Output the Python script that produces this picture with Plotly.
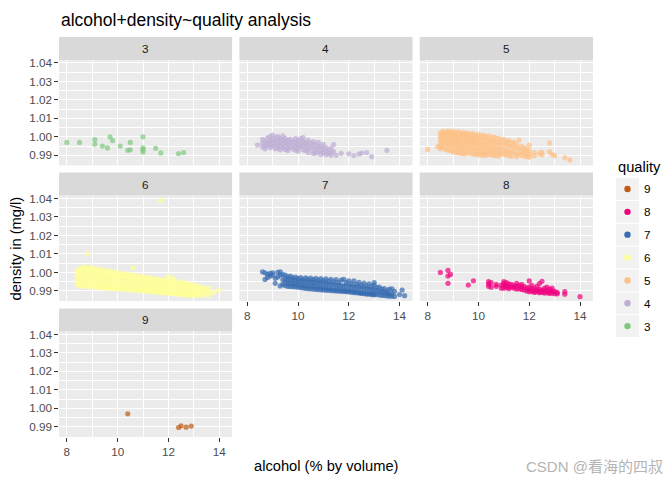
import plotly.graph_objects as go

# ---------------- data ----------------
qualities = ["3", "4", "5", "6", "7", "8", "9"]
palette = ["#7FC97F", "#BEAED4", "#FDC086", "#FFFF99", "#386CB0", "#F0027F", "#BF5B17"]

# rows: (alcohol, [densities observed at that alcohol])
q3_rows = [
    (8.0, [0.9970]), (8.5, [0.9970]), (9.1, [0.9985, 0.9960]), (9.4, [0.9950]),
    (9.6, [0.9940]), (9.7, [1.0000]), (9.8, [0.9980]), (10.1, [0.9950]),
    (10.4, [0.9927]), (10.5, [0.9970, 0.9930]), (11.0, [1.0000, 0.9940, 0.9930, 0.9918]),
    (11.5, [0.9938]), (11.7, [0.9913]), (12.4, [0.9910]), (12.6, [0.9915]),
]
q4_rows = [
    (8.4, [0.9956]), (8.6, [0.9987, 0.9965, 0.9945]), (8.7, [0.9975, 0.9950, 0.9935]),
    (8.8, [0.9995, 0.9970, 0.9955]), (8.9, [1.0002, 0.9980, 0.9960, 0.9942]),
    (9.0, [1.0010, 0.9985, 0.9968, 0.9950]), (9.1, [0.9995, 0.9975, 0.9955, 0.9935]),
    (9.2, [1.0003, 0.9982, 0.9962, 0.9940]), (9.3, [0.9990, 0.9970, 0.9948, 0.9930]),
    (9.4, [1.0005, 0.9985, 0.9965, 0.9942]), (9.5, [0.9992, 0.9972, 0.9952, 0.9932]),
    (9.6, [0.9980, 0.9960, 0.9938, 0.9926]), (9.7, [0.9988, 0.9968, 0.9945]),
    (9.8, [0.9975, 0.9955, 0.9935]), (9.9, [0.9992, 0.9970, 0.9950, 0.9928]),
    (10.0, [0.9980, 0.9960, 0.9940, 0.9922]), (10.1, [0.9990, 0.9965, 0.9945]),
    (10.2, [0.9996, 0.9975, 0.9952, 0.9930]), (10.3, [0.9970, 0.9948, 0.9925]),
    (10.4, [0.9982, 0.9958, 0.9935, 0.9915]), (10.5, [0.9965, 0.9942]),
    (10.6, [0.9975, 0.9950, 0.9925, 0.9910]), (10.7, [0.9960, 0.9935, 0.9912]),
    (10.8, [0.9970, 0.9945, 0.9920]), (10.9, [0.9950, 0.9928, 0.9905]),
    (11.0, [0.9960, 0.9935, 0.9915]), (11.1, [0.9942, 0.9920, 0.9903]),
    (11.2, [0.9930, 0.9910]), (11.3, [0.9938, 0.9915, 0.9900]), (11.4, [0.9958, 0.9920]),
    (11.5, [0.9900]), (11.7, [0.9911]), (12.0, [0.9908]), (12.2, [0.9899]),
    (12.4, [0.9907]), (12.5, [0.9912]), (12.7, [0.9915]), (12.9, [0.9893]), (13.5, [0.9927]),
]
q5_rows = [
    (8.0, [0.9932]), (8.4, [0.9947]),
    (8.5, [1.0022, 1.0005, 0.9990, 0.9970, 0.9950, 0.9935]),
    (8.6, [1.0030, 1.0018, 1.0002, 0.9984, 0.9962, 0.9942]),
    (8.7, [1.0026, 1.0012, 0.9995, 0.9978, 0.9958, 0.9932]),
    (8.8, [1.0033, 1.0020, 1.0005, 0.9988, 0.9968, 0.9948, 0.9928]),
    (8.9, [1.0024, 1.0010, 0.9992, 0.9975, 0.9955, 0.9925]),
    (9.0, [1.0031, 1.0016, 1.0000, 0.9983, 0.9965, 0.9945, 0.9920]),
    (9.1, [1.0022, 1.0008, 0.9990, 0.9972, 0.9952, 0.9930, 0.9915]),
    (9.2, [1.0029, 1.0012, 0.9995, 0.9978, 0.9960, 0.9940, 0.9914]),
    (9.3, [1.0018, 1.0006, 0.9988, 0.9968, 0.9948, 0.9926, 0.9911]),
    (9.4, [1.0025, 1.0009, 0.9991, 0.9973, 0.9953, 0.9932, 0.9909]),
    (9.5, [1.0016, 1.0004, 0.9985, 0.9965, 0.9944, 0.9920, 0.9908]),
    (9.6, [1.0020, 1.0001, 0.9982, 0.9962, 0.9940, 0.9916]),
    (9.7, [1.0012, 0.9998, 0.9978, 0.9958, 0.9936, 0.9910]),
    (9.8, [1.0017, 0.9996, 0.9975, 0.9955, 0.9932, 0.9907]),
    (9.9, [1.0008, 0.9993, 0.9972, 0.9950, 0.9928, 0.9905]),
    (10.0, [1.0014, 0.9990, 0.9968, 0.9946, 0.9924, 0.9903]),
    (10.1, [1.0004, 0.9988, 0.9965, 0.9942, 0.9920, 0.9902]),
    (10.2, [1.0010, 0.9986, 0.9962, 0.9938, 0.9916, 0.9901]),
    (10.3, [1.0000, 0.9983, 0.9958, 0.9935, 0.9912, 0.9900]),
    (10.4, [1.0006, 0.9980, 0.9955, 0.9930, 0.9908]),
    (10.5, [0.9995, 0.9976, 0.9950, 0.9926, 0.9903]),
    (10.6, [1.0000, 0.9972, 0.9946, 0.9922, 0.9900]),
    (10.7, [0.9990, 0.9968, 0.9942, 0.9918, 0.9898]),
    (10.8, [0.9993, 0.9965, 0.9938, 0.9914, 0.9897]),
    (10.9, [0.9982, 0.9962, 0.9935, 0.9910]),
    (11.0, [0.9987, 0.9958, 0.9930, 0.9906]),
    (11.1, [0.9975, 0.9955, 0.9926, 0.9902]),
    (11.2, [0.9980, 0.9950, 0.9922, 0.9898]),
    (11.3, [0.9966, 0.9946, 0.9918, 0.9895]),
    (11.4, [0.9972, 0.9942, 0.9914]),
    (11.5, [0.9958, 0.9938, 0.9910, 0.9893]),
    (11.6, [0.9983, 0.9935, 0.9908]),
    (11.7, [0.9948, 0.9925, 0.9900]),
    (11.8, [0.9942, 0.9920, 0.9896]),
    (11.9, [0.9932, 0.9912, 0.9893]),
    (12.0, [0.9955, 0.9925, 0.9905, 0.9890]),
    (12.2, [0.9915, 0.9898]), (12.4, [0.9910]), (12.5, [0.9918, 0.9902]),
    (12.8, [0.9967, 0.9920]), (12.9, [0.9905]), (13.0, [0.9898]),
    (13.4, [0.9888]), (13.6, [0.9875]),
]
q6_rows = [
    (8.4, [1.0012, 0.9995, 0.9975, 0.9955, 0.9935]),
    (8.5, [1.0018, 1.0000, 0.9982, 0.9962, 0.9942, 0.9928]),
    (8.6, [1.0025, 1.0008, 0.9988, 0.9968, 0.9948, 0.9927]),
    (8.7, [1.0030, 1.0012, 0.9992, 0.9972, 0.9950, 0.9926]),
    (8.8, [1.0101, 1.0022, 1.0010, 0.9990, 0.9970, 0.9948, 0.9925]),
    (8.9, [1.0026, 1.0006, 0.9986, 0.9965, 0.9944, 0.9924]),
    (9.0, [1.0018, 1.0004, 0.9984, 0.9962, 0.9940, 0.9923]),
    (9.1, [1.0022, 1.0001, 0.9980, 0.9958, 0.9937, 0.9921]),
    (9.2, [1.0012, 0.9999, 0.9978, 0.9956, 0.9935, 0.9920]),
    (9.3, [1.0017, 0.9996, 0.9975, 0.9953, 0.9932, 0.9918]),
    (9.4, [1.0008, 0.9994, 0.9972, 0.9950, 0.9930, 0.9917]),
    (9.5, [1.0012, 0.9991, 0.9969, 0.9947, 0.9927, 0.9916]),
    (9.6, [1.0002, 0.9989, 0.9967, 0.9945, 0.9925, 0.9915]),
    (9.7, [1.0008, 0.9986, 0.9964, 0.9942, 0.9922, 0.9914]),
    (9.8, [0.9998, 0.9984, 0.9962, 0.9940, 0.9920, 0.9913]),
    (9.9, [1.0003, 0.9981, 0.9959, 0.9937, 0.9918, 0.9912]),
    (10.0, [0.9994, 0.9979, 0.9957, 0.9935, 0.9915, 0.9911]),
    (10.1, [0.9998, 0.9977, 0.9955, 0.9933, 0.9913]),
    (10.2, [0.9988, 0.9975, 0.9953, 0.9931, 0.9910]),
    (10.3, [0.9993, 0.9972, 0.9950, 0.9928, 0.9908]),
    (10.4, [0.9985, 0.9970, 0.9948, 0.9926, 0.9906]),
    (10.5, [0.9989, 0.9968, 0.9946, 0.9924, 0.9905]),
    (10.6, [1.0026, 0.9980, 0.9966, 0.9944, 0.9922, 0.9904]),
    (10.7, [0.9984, 0.9963, 0.9941, 0.9920, 0.9903]),
    (10.8, [0.9975, 0.9961, 0.9939, 0.9918, 0.9902]),
    (10.9, [0.9980, 0.9959, 0.9937, 0.9916, 0.9901]),
    (11.0, [0.9970, 0.9956, 0.9934, 0.9914, 0.9900]),
    (11.1, [0.9975, 0.9954, 0.9932, 0.9912, 0.9899]),
    (11.2, [0.9966, 0.9952, 0.9930, 0.9910, 0.9897]),
    (11.3, [0.9971, 0.9950, 0.9928, 0.9908, 0.9896]),
    (11.4, [0.9962, 0.9948, 0.9926, 0.9906, 0.9895]),
    (11.5, [0.9967, 0.9946, 0.9924, 0.9904, 0.9893]),
    (11.6, [0.9958, 0.9944, 0.9922, 0.9902, 0.9892]),
    (11.7, [1.0390, 0.9963, 0.9942, 0.9920, 0.9900, 0.9891]),
    (11.8, [0.9955, 0.9940, 0.9918, 0.9898, 0.9890]),
    (11.9, [0.9960, 0.9938, 0.9916, 0.9896, 0.9889]),
    (12.0, [0.9977, 0.9950, 0.9936, 0.9914, 0.9894, 0.9887]),
    (12.1, [0.9956, 0.9934, 0.9912, 0.9892, 0.9886]),
    (12.2, [0.9968, 0.9946, 0.9932, 0.9910, 0.9890, 0.9885]),
    (12.3, [0.9952, 0.9930, 0.9908, 0.9888, 0.9884]),
    (12.4, [0.9942, 0.9928, 0.9906, 0.9887, 0.9883]),
    (12.5, [0.9948, 0.9926, 0.9904, 0.9885, 0.9881]),
    (12.6, [0.9938, 0.9924, 0.9902, 0.9884, 0.9880]),
    (12.7, [0.9944, 0.9922, 0.9900, 0.9882, 0.9879]),
    (12.8, [0.9934, 0.9920, 0.9898, 0.9880, 0.9878]),
    (12.9, [0.9936, 0.9918, 0.9896, 0.9879, 0.9877]),
    (13.0, [0.9928, 0.9915, 0.9894, 0.9877]),
    (13.1, [0.9930, 0.9912, 0.9892, 0.9876]),
    (13.2, [0.9920, 0.9908, 0.9888, 0.9875]),
    (13.3, [0.9920, 0.9900, 0.9882]),
    (13.4, [0.9912, 0.9895, 0.9876]),
    (13.5, [0.9912, 0.9890]),
    (13.6, [0.9915, 0.9892, 0.9878]),
    (13.8, [0.9893]), (14.0, [0.9905]),
]
q7_rows = [
    (8.6, [1.0003]), (8.7, [0.9998, 0.9962]), (8.8, [0.9990, 0.9973]),
    (8.9, [0.9995, 0.9980]), (9.0, [0.9998, 0.9985]), (9.1, [0.9968, 0.9941]),
    (9.2, [1.0000, 0.9975]), (9.3, [1.0003, 0.9985, 0.9927]),
    (9.4, [0.9988, 0.9960, 0.9935]),
    (9.5, [0.9986, 0.9965, 0.9945, 0.9928]),
    (9.6, [0.9976, 0.9962, 0.9942, 0.9925]),
    (9.7, [0.9980, 0.9960, 0.9940, 0.9924]),
    (9.8, [0.9970, 0.9957, 0.9938, 0.9923]),
    (9.9, [0.9975, 0.9955, 0.9936, 0.9922]),
    (10.0, [0.9966, 0.9953, 0.9934, 0.9920]),
    (10.1, [0.9972, 0.9952, 0.9932, 0.9918]),
    (10.2, [0.9964, 0.9950, 0.9930, 0.9916]),
    (10.3, [0.9970, 0.9949, 0.9928, 0.9914]),
    (10.4, [0.9962, 0.9948, 0.9927, 0.9912]),
    (10.5, [0.9969, 0.9947, 0.9926, 0.9911]),
    (10.6, [0.9960, 0.9946, 0.9924, 0.9910]),
    (10.7, [0.9968, 0.9945, 0.9923, 0.9908]),
    (10.8, [0.9958, 0.9944, 0.9921, 0.9907]),
    (10.9, [0.9967, 0.9943, 0.9920, 0.9906]),
    (11.0, [0.9956, 0.9942, 0.9918, 0.9905]),
    (11.1, [0.9965, 0.9940, 0.9916, 0.9904]),
    (11.2, [0.9954, 0.9938, 0.9914, 0.9903]),
    (11.3, [0.9963, 0.9936, 0.9912, 0.9902]),
    (11.4, [0.9950, 0.9934, 0.9910, 0.9901]),
    (11.5, [0.9961, 0.9932, 0.9909, 0.9900]),
    (11.6, [0.9946, 0.9930, 0.9907, 0.9899]),
    (11.7, [0.9959, 0.9929, 0.9906, 0.9898]),
    (11.8, [0.9962, 0.9928, 0.9904, 0.9897]),
    (11.9, [0.9945, 0.9927, 0.9903, 0.9896]),
    (12.0, [0.9954, 0.9926, 0.9902, 0.9895]),
    (12.1, [0.9940, 0.9924, 0.9900, 0.9893]),
    (12.2, [0.9955, 0.9922, 0.9898, 0.9891]),
    (12.3, [0.9936, 0.9920, 0.9896, 0.9890]),
    (12.4, [0.9946, 0.9918, 0.9894, 0.9888]),
    (12.5, [0.9932, 0.9916, 0.9892, 0.9886]),
    (12.6, [0.9942, 0.9914, 0.9890, 0.9885]),
    (12.7, [0.9928, 0.9912, 0.9888, 0.9883]),
    (12.8, [0.9938, 0.9910, 0.9887, 0.9882]),
    (12.9, [0.9924, 0.9908, 0.9885, 0.9880]),
    (13.0, [0.9945, 0.9932, 0.9906, 0.9883, 0.9879]),
    (13.1, [0.9918, 0.9902, 0.9881]),
    (13.2, [0.9920, 0.9898, 0.9878]),
    (13.3, [0.9910, 0.9895, 0.9876]),
    (13.4, [0.9912, 0.9892, 0.9875]),
    (13.5, [0.9900, 0.9888, 0.9873]),
    (13.6, [0.9910, 0.9886, 0.9872]),
    (13.7, [0.9911, 0.9884, 0.9871]),
    (13.8, [0.9898, 0.9870]),
    (14.0, [0.9880]), (14.1, [0.9905]), (14.2, [0.9874]),
]
q8_rows = [
    (8.5, [1.0000]), (8.8, [1.0011, 0.9980, 0.9941]), (8.9, [0.9989]),
    (9.6, [0.9932]), (9.8, [0.9955]),
    (10.4, [0.9950, 0.9938, 0.9925]), (10.5, [0.9945, 0.9920]),
    (10.7, [0.9925, 0.9935]), (10.9, [0.9932, 0.9915]),
    (11.0, [0.9950, 0.9940, 0.9925, 0.9915]), (11.1, [0.9945, 0.9930, 0.9918]),
    (11.2, [0.9938, 0.9922, 0.9912]), (11.3, [0.9935, 0.9920]),
    (11.4, [0.9928, 0.9915]), (11.5, [0.9941, 0.9925, 0.9910]),
    (11.6, [0.9930, 0.9912]), (11.7, [0.9935, 0.9920, 0.9908]),
    (11.8, [0.9925, 0.9905]), (11.9, [0.9915, 0.9900]),
    (12.0, [0.9954, 0.9920, 0.9905, 0.9895]), (12.1, [0.9930, 0.9910, 0.9898]),
    (12.2, [0.9915, 0.9900, 0.9892]), (12.3, [0.9925, 0.9905, 0.9895]),
    (12.4, [0.9940, 0.9910, 0.9898, 0.9890]), (12.5, [0.9952, 0.9905, 0.9892]),
    (12.6, [0.9915, 0.9900, 0.9888]), (12.7, [0.9920, 0.9902, 0.9890]),
    (12.8, [0.9910, 0.9895, 0.9886]), (12.9, [0.9915, 0.9900, 0.9888]),
    (13.0, [0.9898, 0.9885]), (13.1, [0.9892, 0.9884]),
    (13.4, [0.9896, 0.9882]), (14.0, [0.9869]),
]
q9_rows = [
    (10.4, [0.9970]), (12.4, [0.9896]), (12.5, [0.9905]), (12.7, [0.9898]), (12.9, [0.9904]),
]
all_rows = [q3_rows, q4_rows, q5_rows, q6_rows, q7_rows, q8_rows, q9_rows]

x_ticks = [8, 10, 12, 14]
x_minor = [9, 11, 13]
y_ticks = [0.99, 1.00, 1.01, 1.02, 1.03, 1.04]
y_ticklabels = ["0.99", "1.00", "1.01", "1.02", "1.03", "1.04"]
y_minor = [0.985, 0.995, 1.005, 1.015, 1.025, 1.035]

# ---------------- layout helpers (pixels -> paper) ----------------
W, H = 672, 487
FONT = "Liberation Sans, Arial, Helvetica, sans-serif"


def fx(px):
    return px / W


def fy(py):
    return 1 - py / H


XR = [7.69, 14.51]
YR = [0.984517, 1.041573]
cols = [(59.0, 232.1), (239.4, 412.5), (419.8, 593.0)]
rows = [(56.5, 162.8), (193.2, 299.5), (330.2, 436.5)]
STRIP = 23.3

fig = go.Figure()
shapes = []
annotations = []

for i, q in enumerate(qualities):
    r, c = divmod(i, 3)
    k = i + 1
    xs, ys = [], []
    for alc, dens in all_rows[i]:
        for d in dens:
            xs.append(alc)
            ys.append(d)
    xname = "x" if k == 1 else f"x{k}"
    yname = "y" if k == 1 else f"y{k}"
    fig.add_trace(go.Scatter(
        x=xs, y=ys, mode="markers", xaxis=xname, yaxis=yname,
        marker=dict(size=5.2, color=palette[i], opacity=0.7, line=dict(width=0)),
        showlegend=False, hoverinfo="skip"))

    show_x = (q in ("7", "8", "9"))
    show_y = (c == 0)
    c0, c1 = cols[c]
    r0, r1 = rows[r]
    common = dict(showgrid=True, gridcolor="white", gridwidth=1.4, zeroline=False,
                  showline=False, ticklen=3.7, tickwidth=1.1, tickcolor="#333333",
                  tickfont=dict(size=11.7, color="#4D4D4D", family=FONT), fixedrange=True)
    fig.layout["xaxis" if k == 1 else f"xaxis{k}"] = dict(
        domain=[fx(c0), fx(c1)], range=XR, anchor=yname,
        tickmode="array", tickvals=x_ticks, ticktext=[str(t) for t in x_ticks],
        showticklabels=show_x, ticks="outside" if show_x else "",
        minor=dict(tickvals=x_minor, showgrid=True, gridcolor="white", gridwidth=0.7, ticks=""),
        **common)
    fig.layout["yaxis" if k == 1 else f"yaxis{k}"] = dict(
        domain=[fy(r1), fy(r0)], range=YR, anchor=xname,
        tickmode="array", tickvals=y_ticks, ticktext=y_ticklabels,
        showticklabels=show_y, ticks="outside" if show_y else "",
        minor=dict(tickvals=y_minor, showgrid=True, gridcolor="white", gridwidth=0.7, ticks=""),
        **common)

    # strip
    shapes.append(dict(type="rect", xref="paper", yref="paper",
                       x0=fx(c0), x1=fx(c1), y0=fy(r0), y1=fy(r0 - STRIP),
                       fillcolor="#D9D9D9", line=dict(width=0), layer="below"))
    annotations.append(dict(text=q, xref="paper", yref="paper",
                            x=fx((c0 + c1) / 2), y=fy(r0 - STRIP / 2),
                            xanchor="center", yanchor="middle", showarrow=False,
                            font=dict(size=11.7, color="#1A1A1A", family=FONT)))

# titles
annotations.append(dict(text="alcohol+density~quality analysis", xref="paper", yref="paper",
                        x=fx(59), y=fy(16), xanchor="left", yanchor="middle", showarrow=False,
                        font=dict(size=17.5, color="black", family=FONT)))
annotations.append(dict(text="alcohol (% by volume)", xref="paper", yref="paper",
                        x=fx(326), y=fy(466), xanchor="center", yanchor="middle", showarrow=False,
                        font=dict(size=14.7, color="black", family=FONT)))
annotations.append(dict(text="density in (mg/l)", xref="paper", yref="paper",
                        x=fx(16), y=fy(246.5), xanchor="center", yanchor="middle", showarrow=False,
                        textangle=-90, font=dict(size=14.7, color="black", family=FONT)))

# legend (drawn manually, ggplot style)
annotations.append(dict(text="quality", xref="paper", yref="paper",
                        x=fx(615.5), y=fy(164), xanchor="left", yanchor="middle", showarrow=False,
                        font=dict(size=14.7, color="black", family=FONT)))
KEY = 23.04
for j, q in enumerate(reversed(qualities)):
    col = palette[qualities.index(q)]
    top = 175.0 + j * KEY
    yc = top + KEY / 2
    shapes.append(dict(type="rect", xref="paper", yref="paper",
                       x0=fx(616), x1=fx(639), y0=fy(top + KEY - 0.6), y1=fy(top + 0.6),
                       fillcolor="#F2F2F2", line=dict(width=0)))
    shapes.append(dict(type="circle", xref="paper", yref="paper",
                       x0=fx(627.5 - 3.2), x1=fx(627.5 + 3.2), y0=fy(yc + 3.2), y1=fy(yc - 3.2),
                       fillcolor=col, line=dict(width=0)))
    annotations.append(dict(text=q, xref="paper", yref="paper",
                            x=fx(641.5), y=fy(yc), xanchor="left", yanchor="middle", showarrow=False,
                            font=dict(size=11.7, color="black", family=FONT)))

# watermark
annotations.append(dict(text="CSDN @看海的四叔", xref="paper", yref="paper",
                        x=fx(665), y=fy(466), xanchor="right", yanchor="middle", showarrow=False,
                        font=dict(size=15, color="#B4B4B4",
                                  family="Liberation Sans, Noto Sans CJK SC, sans-serif")))

fig.update_layout(
    width=W, height=H, margin=dict(l=0, r=0, t=0, b=0),
    paper_bgcolor="white", plot_bgcolor="#EBEBEB",
    showlegend=False, shapes=shapes, annotations=annotations,
    font=dict(family=FONT),
)

fig.write_html("out.html", config={"displayModeBar": False},
               post_script="document.body.style.margin='0px';document.body.style.padding='0px';")
